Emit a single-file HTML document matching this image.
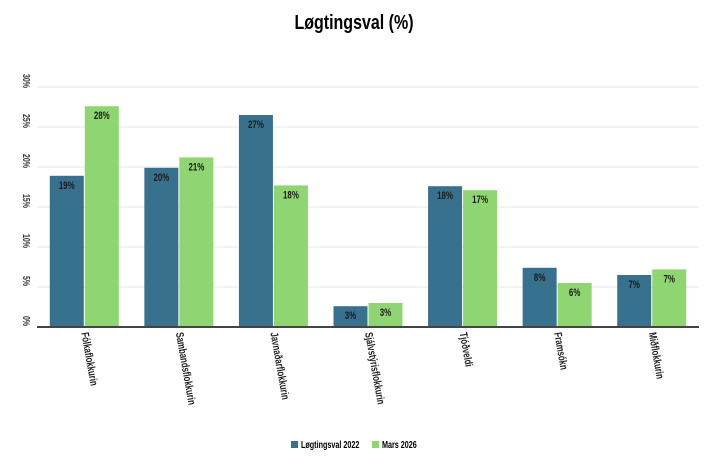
<!DOCTYPE html>
<html><head><meta charset="utf-8"><style>
body{margin:0;background:#fff;width:709px;height:451px;overflow:hidden;font-family:"Liberation Sans",sans-serif}
</style></head><body>
<svg id="c" width="709" height="451">
<text x="354" y="29" text-anchor="middle" font-size="20" font-weight="bold" transform="translate(354,0) scale(0.8,1) translate(-354,0)">Løgtingsval (%)</text>
<g id="plot"></g>
<g>
<rect x="291" y="441" width="7" height="7" fill="#37718e"/>
<text x="301" y="448" font-size="10" font-weight="bold" transform="translate(301,0) scale(0.72,1) translate(-301,0)">Løgtingsval 2022</text>
<rect x="372" y="441" width="7" height="7" fill="#8fd672"/>
<text x="382" y="448" font-size="10" font-weight="bold" transform="translate(382,0) scale(0.72,1) translate(-382,0)">Mars 2026</text>
</g>
</svg>
<script>
const categories=["Fólkaflokkurin","Sambandsflokkurin","Javnaðarflokkurin","Sjálvstýrisflokkurin","Tjóðveldi","Framsókn","Miðflokkurin"];
const values2022=[18.9,19.9,26.5,2.6,17.6,7.4,6.5];
const values2026=[27.6,21.2,17.7,3.0,17.1,5.5,7.2];
const labels2022=["19%","20%","27%","3%","18%","8%","7%"];
const labels2026=["28%","21%","18%","3%","17%","6%","7%"];
const yTicks=[0,5,10,15,20,25,30];
const NS="http://www.w3.org/2000/svg";
const g=document.getElementById('plot');
const x0=37,x1=699,yBase=327,yTop=87,yMax=30;
const y=v=>yBase-(v/yMax)*(yBase-yTop);
const band=(x1-x0)/categories.length;
const cx=i=>x0+band*(i+0.5);
function mk(t,a){const e=document.createElementNS(NS,t);for(const k in a)e.setAttribute(k,a[k]);g.appendChild(e);return e;}
yTicks.forEach(t=>{
 if(t>0){const l=mk('line',{x1:x0,x2:x1,y1:y(t),y2:y(t),stroke:'#e6e6e6'});
 
 }
 const tx=mk('text',{x:0,y:0,'font-size':10,'font-weight':'bold','text-anchor':'middle',fill:'#333',transform:`translate(23,${y(t)-6}) rotate(90) scale(0.7,1)`});
 tx.textContent=t+'%';
 
 
});
const bw=35;
categories.forEach((c,i)=>{
 [[values2022,labels2022,'#37718e',-bw,'2022'],[values2026,labels2026,'#8fd672',0,'2026']].forEach(([vals,lbs,col,off,s])=>{
  const v=vals[i];
  const r=mk('rect',{x:cx(i)+off+0.5,y:y(v),width:bw-1,height:yBase-y(v),fill:col});
  
  
  const bx=cx(i)+off+bw/2;
  const t=mk('text',{x:0,y:0,'font-size':11,'font-weight':'bold','text-anchor':'middle',fill:'#1a1a1a',transform:`translate(${bx},${y(v)+13}) scale(0.72,1)`});
  t.textContent=lbs[i];
  
  
 });
 const cl=mk('text',{x:0,y:0,'font-size':11,'font-weight':'bold',fill:'#222',transform:`translate(${cx(i)-3},${yBase+6}) rotate(80) scale(0.72,1)`});
 cl.textContent=c;
 
 
});
const ax=mk('line',{x1:x0,x2:x1,y1:yBase,y2:yBase,stroke:'#444','stroke-width':2});


</script>
</body></html>
